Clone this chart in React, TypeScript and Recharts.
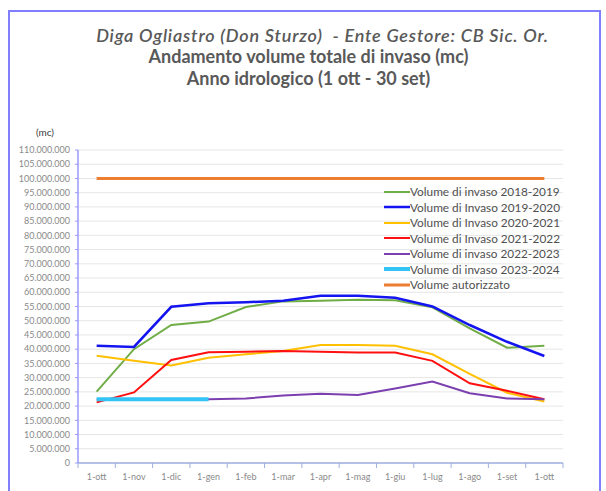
import React from 'react';
import { LineChart, Line, XAxis, YAxis, CartesianGrid, Legend } from 'recharts';

const months = ['1-ott', '1-nov', '1-dic', '1-gen', '1-feb', '1-mar', '1-apr', '1-mag', '1-giu', '1-lug', '1-ago', '1-set', '1-ott'];

const v2018 = [25100000, 40000000, 48500000, 49700000, 54800000, 56800000, 57000000, 57400000, 57200000, 54700000, 47300000, 40500000, 41200000];
const v2019 = [41200000, 40800000, 54900000, 56100000, 56500000, 57000000, 58800000, 58800000, 58100000, 55000000, 48500000, 42600000, 37600000];
const v2020 = [37700000, 35900000, 34300000, 37000000, 38200000, 39400000, 41500000, 41500000, 41200000, 38200000, 31300000, 24700000, 21600000];
const v2021 = [21300000, 24800000, 36200000, 38900000, 39100000, 39400000, 39100000, 38800000, 38800000, 35900000, 28000000, 25400000, 22400000];
const v2022 = [22300000, 22300000, 22400000, 22400000, 22700000, 23700000, 24300000, 23900000, 26200000, 28600000, 24500000, 22700000, 22400000];
const v2023 = [22400000, 22400000, 22400000, 22400000, null, null, null, null, null, null, null, null, null];
const vAut = [100000000, 100000000, 100000000, 100000000, 100000000, 100000000, 100000000, 100000000, 100000000, 100000000, 100000000, 100000000, 100000000];

const yTicks = [0, 5000000, 10000000, 15000000, 20000000, 25000000, 30000000, 35000000, 40000000, 45000000, 50000000, 55000000, 60000000, 65000000, 70000000, 75000000, 80000000, 85000000, 90000000, 95000000, 100000000, 105000000, 110000000];

const series = [
  { key: 's2018', name: 'Volume di invaso 2018-2019', color: '#70AD47', width: 2, values: v2018 },
  { key: 's2019', name: 'Volume di Invaso 2019-2020', color: '#1414F0', width: 2.5, values: v2019 },
  { key: 's2020', name: 'Volume di Invaso 2020-2021', color: '#FFC000', width: 2, values: v2020 },
  { key: 's2021', name: 'Volume di Invaso 2021-2022', color: '#FF1010', width: 2, values: v2021 },
  { key: 's2022', name: 'Volume di invaso 2022-2023', color: '#7B3FB0', width: 2, values: v2022 },
  { key: 's2023', name: 'Volume di invaso 2023-2024', color: '#33C3F5', width: 4, values: v2023 },
  { key: 'aut', name: 'Volume autorizzato', color: '#ED7D31', width: 3, values: vAut },
];

const data = months.map((m, i) => {
  const row: Record<string, any> = { month: m };
  series.forEach((s) => {
    row[s.key] = s.values[i];
  });
  return row;
});

const FONT = 'Lato, "Open Sans", sans-serif';
const PLOT_LEFT = 78;
const PLOT_RIGHT = 563;
const PLOT_BOTTOM = 463;
const HALF = (PLOT_RIGHT - PLOT_LEFT) / months.length / 2;

const fmt = (v: number) => String(v).replace(/\B(?=(\d{3})+(?!\d))/g, '.');

const XTick = (props: any) => {
  const { x, payload, index } = props;
  return (
    <g>
      <line x1={x - HALF} x2={x - HALF} y1={PLOT_BOTTOM} y2={PLOT_BOTTOM + 5} stroke="#9DB0E0" strokeWidth={1} />
      {index === months.length - 1 && (
        <line x1={x + HALF} x2={x + HALF} y1={PLOT_BOTTOM} y2={PLOT_BOTTOM + 5} stroke="#9DB0E0" strokeWidth={1} />
      )}
      <text x={x} y={PLOT_BOTTOM + 17} textAnchor="middle" fontSize={9} fill="#8a8a8a" fontFamily={FONT}>
        {payload.value}
      </text>
    </g>
  );
};

const LegendContent = () => {
  return (
    <div style={{ fontFamily: FONT }}>
      {series.map((s) => (
        <div key={s.key} style={{ display: 'flex', alignItems: 'center', height: 15.5 }}>
          <svg width={26} height={8} style={{ display: 'block' }}>
            <line x1={0} x2={26} y1={4} y2={4} stroke={s.color} strokeWidth={s.width} />
          </svg>
          <span style={{ fontSize: 11.8, color: '#505050', whiteSpace: 'pre', lineHeight: '15px' }}>{s.name}</span>
        </div>
      ))}
    </div>
  );
};

const titleBase: React.CSSProperties = {
  position: 'absolute',
  left: 0,
  width: 617,
  textAlign: 'center',
  fontFamily: FONT,
  fontSize: 18,
  color: '#595959',
  whiteSpace: 'pre',
  lineHeight: '22px',
};

export default function App() {
  return (
    <div style={{ position: 'absolute', left: 0, top: 0, width: 606, height: 491, overflow: 'hidden', background: '#fff' }}>
      <div style={{ position: 'absolute', left: 8, top: 10, width: 593, height: 520, border: '2px solid #8080FF', boxSizing: 'border-box' }} />
      <div style={{ ...titleBase, top: 24, left: 14, fontStyle: 'italic', fontWeight: 600, letterSpacing: 0.8 }}>
        {'Diga Ogliastro (Don Sturzo)  - Ente Gestore: CB Sic. Or.'}
      </div>
      <div style={{ ...titleBase, top: 45, fontWeight: 700 }}>Andamento volume totale di invaso (mc)</div>
      <div style={{ ...titleBase, top: 67, fontWeight: 700 }}>Anno idrologico (1 ott - 30 set)</div>
      <div style={{ position: 'absolute', left: 30, top: 126, width: 30, textAlign: 'center', fontFamily: FONT, fontSize: 10, color: '#404040' }}>
        (mc)
      </div>
      <div style={{ position: 'absolute', left: 0, top: 0 }}>
        <LineChart width={606} height={491} data={data} margin={{ top: 150, right: 606 - PLOT_RIGHT, bottom: 0, left: 8 }}>
          <CartesianGrid vertical={false} stroke="#E6E6E6" strokeWidth={1} />
          <XAxis
            dataKey="month"
            interval={0}
            padding={{ left: HALF, right: HALF }}
            height={491 - PLOT_BOTTOM}
            tickLine={false}
            axisLine={{ stroke: '#9DB0E0', strokeWidth: 1.5 }}
            tick={<XTick />}
          />
          <YAxis
            width={PLOT_LEFT - 8}
            domain={[0, 110000000]}
            ticks={yTicks}
            interval={0}
            tickFormatter={fmt}
            tickSize={3}
            tickMargin={5}
            tickLine={{ stroke: '#9999FF' }}
            axisLine={{ stroke: '#9999FF', strokeWidth: 1.5 }}
            tick={{ fontSize: 9, fill: '#8a8a8a', fontFamily: FONT }}
          />
          {series.map((s) => (
            <Line
              key={s.key}
              type="linear"
              dataKey={s.key}
              name={s.name}
              stroke={s.color}
              strokeWidth={s.width}
              dot={false}
              activeDot={false}
              connectNulls={false}
              isAnimationActive={false}
            />
          ))}
          <Legend
            layout="vertical"
            align="center"
            verticalAlign="middle"
            content={<LegendContent />}
            wrapperStyle={{ position: 'absolute', left: 384, top: 184, width: 200, height: 112 }}
          />
        </LineChart>
      </div>
    </div>
  );
}
